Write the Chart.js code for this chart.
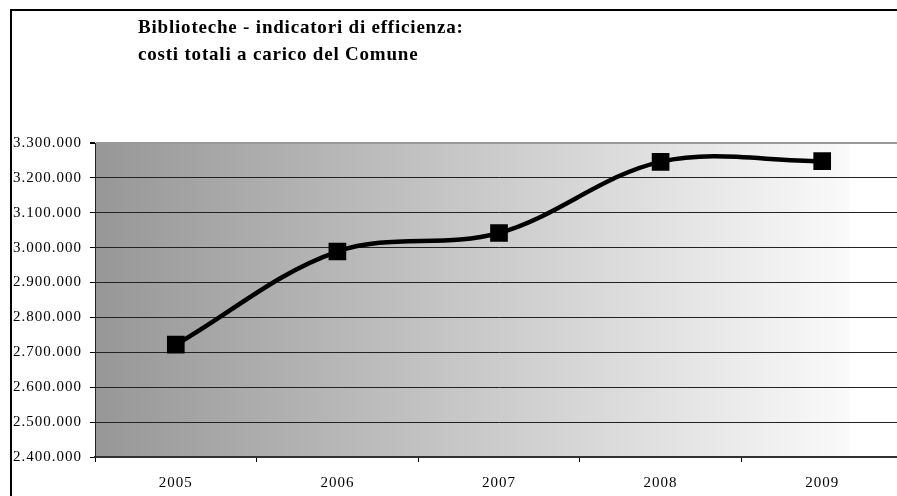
<!DOCTYPE html>
<html>
<head>
<meta charset="utf-8">
<script src="https://cdn.jsdelivr.net/npm/chart.js@4/dist/chart.umd.min.js"></script>
<style>
  html, body { margin: 0; padding: 0; background: #fff; overflow: hidden; }
  #wrap { width: 903px; height: 496px; }
</style>
</head>
<body>
<div id="wrap"><canvas id="costi" width="903" height="496"></canvas></div>
<script>
// dati
let anni = ["2005", "2006", "2007", "2008", "2009"];
let costi = [2722000, 2989000, 3042000, 3246000, 3248000];
let yMin = 2400000;
let yMax = 3300000;
let yStep = 100000;
let titolo = ["Biblioteche - indicatori di efficienza:", "costi totali a carico del Comune"];

function formatNum(v) {
    return String(v).replace(/\B(?=(\d{3})+(?!\d))/g, ".");
}

// sfondo sfumato + cornice + titolo
const sfondo = {
    id: "sfondo",
    beforeLayout(chart) {
        chart.ctx.letterSpacing = "1px";
    },
    beforeDraw(chart) {
        let ctx = chart.ctx;
        ctx.letterSpacing = "1px";
        let a = chart.chartArea;
        let fine = a.left + (a.right - a.left) * 0.934;
        ctx.save();
        let g = ctx.createLinearGradient(a.left, 0, fine, 0);
        g.addColorStop(0, "#979797");
        g.addColorStop(1, "#fafafa");
        ctx.fillStyle = g;
        ctx.fillRect(a.left, a.top, fine - a.left, a.bottom - a.top);
        ctx.restore();
    },
    afterDraw(chart) {
        let ctx = chart.ctx;
        ctx.save();
        ctx.strokeStyle = "#000";
        ctx.lineWidth = 2;
        ctx.beginPath();
        ctx.moveTo(11, chart.height);
        ctx.lineTo(11, 10);
        ctx.lineTo(chart.width, 10);
        ctx.stroke();
        ctx.fillStyle = "#000";
        ctx.letterSpacing = "0.8px";
        ctx.font = 'bold 19px "Liberation Serif"';
        ctx.textBaseline = "alphabetic";
        ctx.fillText(titolo[0], 138, 33);
        ctx.fillText(titolo[1], 138, 60);
        ctx.restore();
    }
};

new Chart("costi", {
    type: "line",
    data: {
        labels: anni,
        datasets: [{
            data: costi,
            borderColor: "#000",
            borderWidth: 4.5,
            tension: 0.35,
            fill: false,
            pointStyle: "rect",
            pointRadius: 12.5,
            pointBackgroundColor: "#000",
            pointBorderColor: "#000",
            pointBorderWidth: 0
        }]
    },
    options: {
        responsive: false,
        animation: false,
        layout: {autoPadding: false, padding: {top: 143, right: 0, bottom: 0, left: 0}},
        plugins: {
            legend: {display: false},
            title: {display: false},
            tooltip: {enabled: false}
        },
        scales: {
            x: {
                offset: true,
                afterFit: function (s) {
                    s.height = 39;
                    s.paddingLeft = 0;
                    s.paddingRight = 0;
                },
                grid: {
                    offset: true,
                    drawOnChartArea: false,
                    drawTicks: true,
                    tickLength: 5,
                    tickColor: "#000"
                },
                border: {display: true, color: "#333", width: 2},
                ticks: {
                    color: "#000",
                    padding: 12,
                    maxRotation: 0,
                    font: {family: "Liberation Serif", size: 15}
                }
            },
            y: {
                min: yMin,
                max: yMax,
                afterFit: function (s) { s.width = 95; },
                grid: {
                    color: function (c) { return c.tick && c.tick.value === yMax ? "#999" : "#222"; },
                    lineWidth: function (c) { return c.tick && c.tick.value === yMax ? 2 : 1; },
                    tickLength: 5,
                    tickColor: "#000"
                },
                border: {display: true, color: "#222", width: 1},
                ticks: {
                    stepSize: yStep,
                    color: "#000",
                    padding: 8,
                    font: {family: "Liberation Serif", size: 15},
                    callback: function (v) { return formatNum(v); }
                }
            }
        }
    },
    plugins: [sfondo]
});
</script>
</body>
</html>
